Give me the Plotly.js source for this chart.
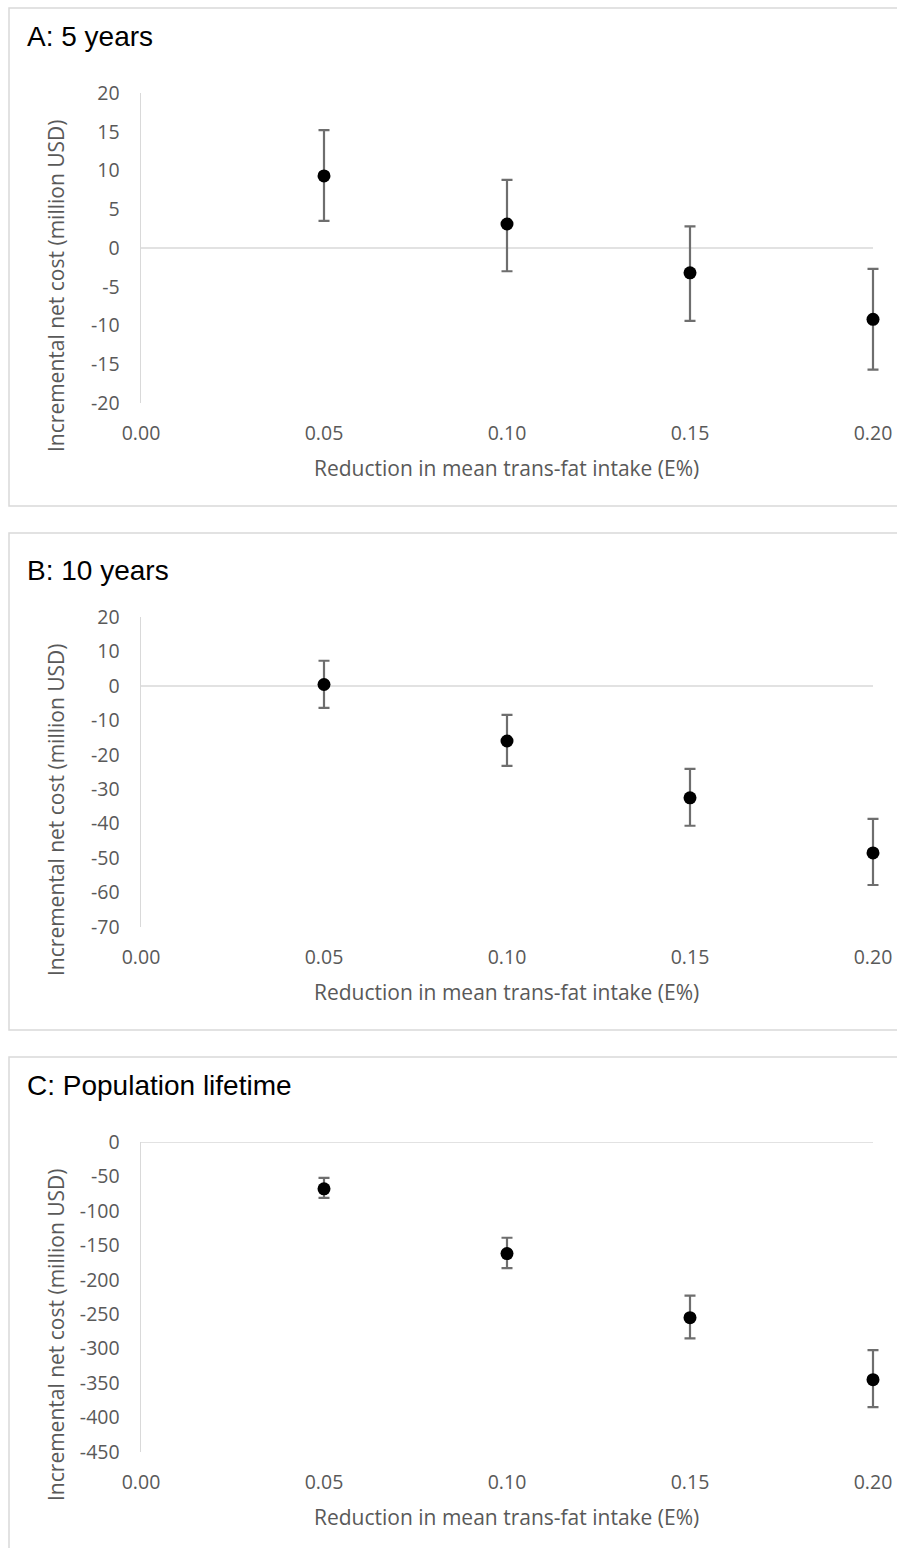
<!DOCTYPE html>
<html>
<head>
<meta charset="utf-8">
<script src="https://cdn.plot.ly/plotly-3.0.1.min.js"></script>
<style>html,body{margin:0;padding:0;background:#fff;}#chart{width:897px;height:1548px;}</style>
</head>
<body>
<div id="chart"></div>
<script>
// ---- data ----
const reduction = [0.05, 0.10, 0.15, 0.20];
const xTickVals = [0, 0.05, 0.10, 0.15, 0.20];
const xTickText = ["0.00", "0.05", "0.10", "0.15", "0.20"];

const meanA  = [9.3, 3.1, -3.2, -9.2];
const upperA = [15.2, 8.8, 2.8, -2.7];
const lowerA = [3.5, -3.0, -9.4, -15.7];
const yTicksA = [20, 15, 10, 5, 0, -5, -10, -15, -20];

const meanB  = [0.4, -16.0, -32.5, -48.5];
const upperB = [7.3, -8.4, -24.1, -38.6];
const lowerB = [-6.4, -23.2, -40.6, -57.8];
const yTicksB = [20, 10, 0, -10, -20, -30, -40, -50, -60, -70];

const meanC  = [-68, -162, -255, -345];
const upperC = [-52, -139, -223, -302];
const lowerC = [-81, -183, -285, -385];
const yTicksC = [0, -50, -100, -150, -200, -250, -300, -350, -400, -450];

const panelTitles = ["A: 5 years", "B: 10 years", "C: Population lifetime"];
const xTitle = "Reduction in mean trans-fat intake (E%)";
const yTitle = "Incremental net cost (million USD)";

// ---- layout helpers ----
const W = 897, H = 1548;
const px = v => v / W;
const py = v => 1 - v / H;

const tickFont = {family: "Open Sans, sans-serif", size: 19.5, color: "#595959"};
const titleFont = {family: "Open Sans, sans-serif", size: 21, color: "#595959"};

const panels = [
  {mean: meanA, up: upperA, lo: lowerA, ticks: yTicksA, top: 93, bottom: 403, box: [8, 506], titleY: 36},
  {mean: meanB, up: upperB, lo: lowerB, ticks: yTicksB, top: 617, bottom: 927, box: [533, 1030], titleY: 570},
  {mean: meanC, up: upperC, lo: lowerC, ticks: yTicksC, top: 1142, bottom: 1452, box: [1057, 1565], titleY: 1085}
];

const plotLeft = 141, plotRight = 873;
const xMin = 0, xMax = 0.2;
const xPad = 0.006;                       // room so the last error-bar cap is not clipped
const pxPerX = (plotRight - plotLeft) / (xMax - xMin);
const domRight = plotRight + xPad * pxPerX;

const data = [];
const layout = {
  width: W, height: H,
  margin: {l: 0, r: 0, t: 0, b: 0},
  paper_bgcolor: "#ffffff", plot_bgcolor: "#ffffff",
  showlegend: false,
  shapes: [], annotations: []
};

panels.forEach((p, i) => {
  const n = i === 0 ? "" : String(i + 1);
  const yMin = Math.min(...p.ticks), yMax = Math.max(...p.ticks);
  data.push({
    type: "scatter", mode: "markers",
    x: reduction, y: p.mean,
    xaxis: "x" + n, yaxis: "y" + n,
    cliponaxis: false,
    marker: {color: "#000000", size: 13},
    error_y: {
      type: "data", symmetric: false,
      array: p.up.map((u, k) => u - p.mean[k]),
      arrayminus: p.lo.map((l, k) => p.mean[k] - l),
      color: "#6e6e6e", thickness: 2.2, width: 5.5
    },
    hoverinfo: "x+y"
  });
  layout["xaxis" + n] = {
    domain: [px(plotLeft), px(domRight)],
    anchor: "y" + n,
    range: [xMin, xMax + xPad],
    tickmode: "array", tickvals: xTickVals, ticktext: xTickText,
    showgrid: false, zeroline: false, showline: false,
    ticks: "outside", ticklen: 13, tickcolor: "rgba(0,0,0,0)",
    tickfont: tickFont, fixedrange: true
  };
  layout["yaxis" + n] = {
    domain: [py(p.bottom), py(p.top)],
    anchor: "x" + n,
    range: [yMin, yMax],
    tickmode: "array", tickvals: p.ticks, ticktext: p.ticks.map(v => String(v)),
    showgrid: false, zeroline: false,
    showline: true, linecolor: "#d9d9d9", linewidth: 1.5,
    ticks: "outside", ticklen: 16, tickcolor: "rgba(0,0,0,0)",
    tickfont: tickFont, fixedrange: true
  };
  // horizontal axis line at y = 0 (spans the 0.00 – 0.20 range)
  layout.shapes.push({
    type: "line", xref: "x" + n, yref: "y" + n,
    x0: xMin, x1: xMax, y0: 0, y1: 0,
    line: {color: "#d9d9d9", width: 1.5}, layer: "below"
  });
  // panel border
  layout.shapes.push({
    type: "rect", xref: "paper", yref: "paper",
    x0: px(9), x1: px(905), y0: py(p.box[1]), y1: py(p.box[0]),
    line: {color: "#d9d9d9", width: 1.5}, fillcolor: "rgba(0,0,0,0)", layer: "below"
  });
  // panel title
  layout.annotations.push({
    text: panelTitles[i], xref: "paper", yref: "paper",
    x: px(25), y: py(p.titleY), xanchor: "left", yanchor: "middle",
    showarrow: false, font: {family: "Liberation Sans, Arial, sans-serif", size: 28, color: "#000000"}
  });
  // x axis title
  layout.annotations.push({
    text: xTitle, xref: "paper", yref: "paper",
    x: px((plotLeft + plotRight) / 2), y: py(p.bottom + 65), xanchor: "center", yanchor: "middle",
    showarrow: false, font: titleFont
  });
  // y axis title
  layout.annotations.push({
    text: yTitle, xref: "paper", yref: "paper",
    x: px(56), y: py((p.top + p.bottom) / 2 + 38), xanchor: "center", yanchor: "middle",
    textangle: -90, showarrow: false, font: titleFont
  });
});

Plotly.newPlot("chart", data, layout, {displayModeBar: false, staticPlot: true});
</script>
</body>
</html>
